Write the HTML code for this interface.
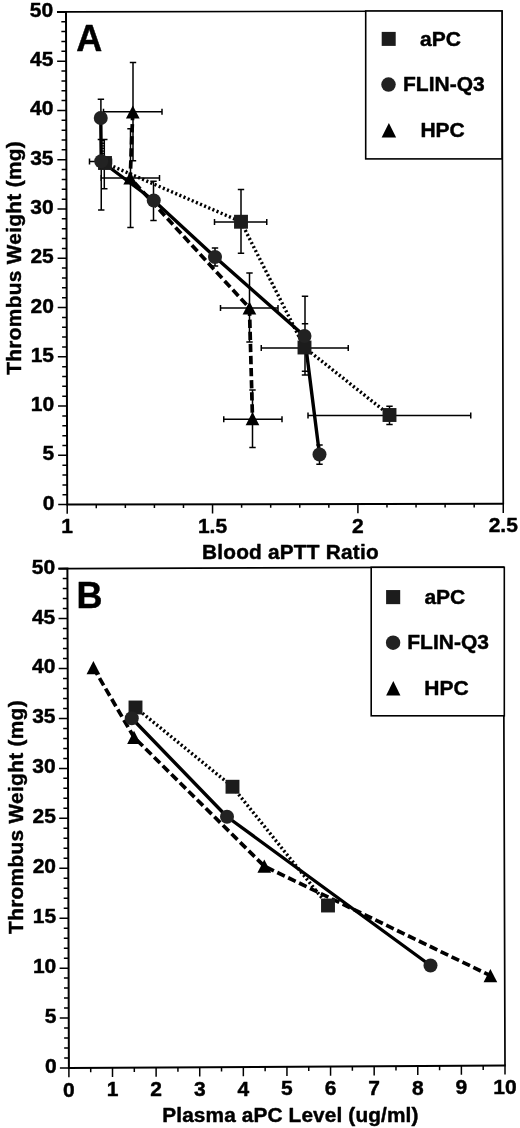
<!DOCTYPE html>
<html><head><meta charset="utf-8"><title>Figure</title>
<style>html,body{margin:0;padding:0;background:#fff}svg{display:block}text{stroke:#000;stroke-width:.45px;stroke-linejoin:round}</style></head>
<body>
<svg width="520" height="1128" viewBox="0 0 520 1128" font-family="Liberation Sans, Arial, Helvetica, sans-serif" font-weight="bold" fill="#000">
<rect width="520" height="1128" fill="#fff"/>
<path d="M66 11.9L502 11L503.25 503.75" fill="none" stroke="#000" stroke-width="1.7"/>
<path d="M57 12.08L66 11.9L67.2 504.6L504.05 503.75" fill="none" stroke="#000" stroke-width="2"/>
<text x="54.4" y="509.6" text-anchor="end" font-size="21">0</text>
<text x="54.28" y="460.33" text-anchor="end" font-size="21">5</text>
<text x="54.16" y="411.06" text-anchor="end" font-size="21">10</text>
<text x="54.04" y="361.79" text-anchor="end" font-size="21">15</text>
<text x="53.92" y="312.52" text-anchor="end" font-size="21">20</text>
<text x="53.8" y="263.25" text-anchor="end" font-size="21">25</text>
<text x="53.68" y="213.98" text-anchor="end" font-size="21">30</text>
<text x="53.56" y="164.71" text-anchor="end" font-size="21">35</text>
<text x="53.44" y="115.44" text-anchor="end" font-size="21">40</text>
<text x="53.32" y="66.17" text-anchor="end" font-size="21">45</text>
<text x="53.2" y="16.9" text-anchor="end" font-size="21">50</text>
<text x="67.2" y="533.1" text-anchor="middle" font-size="21">1</text>
<text x="212.55" y="532.82" text-anchor="middle" font-size="21">1.5</text>
<text x="357.9" y="532.53" text-anchor="middle" font-size="21">2</text>
<text x="503.25" y="532.25" text-anchor="middle" font-size="21">2.5</text>
<path d="M58.2 504.62H67.2M62.48 494.76H67.18M62.45 484.9H67.15M62.43 475.05H67.13M62.4 465.19H67.1M58.08 455.35H67.08M62.36 445.49H67.06M62.33 435.63H67.03M62.31 425.78H67.01M62.28 415.92H66.98M57.96 406.08H66.96M62.24 396.22H66.94M62.21 386.36H66.91M62.19 376.51H66.89M62.16 366.65H66.86M57.84 356.81H66.84M62.12 346.95H66.82M62.09 337.09H66.79M62.07 327.24H66.77M62.04 317.38H66.74M57.72 307.54H66.72M62 297.68H66.7M61.97 287.82H66.67M61.95 277.97H66.65M61.92 268.11H66.62M57.6 258.27H66.6M61.88 248.41H66.58M61.85 238.55H66.55M61.83 228.7H66.53M61.8 218.84H66.5M57.48 209H66.48M61.76 199.14H66.46M61.73 189.28H66.43M61.71 179.43H66.41M61.68 169.57H66.38M57.36 159.73H66.36M61.64 149.87H66.34M61.61 140.01H66.31M61.59 130.16H66.29M61.56 120.3H66.26M57.24 110.46H66.24M61.52 100.6H66.22M61.49 90.74H66.19M61.47 80.89H66.17M61.44 71.03H66.14M57.12 61.19H66.12M61.4 51.33H66.1M61.37 41.47H66.07M61.35 31.62H66.05M61.32 21.76H66.02M57 11.92H66M67.2 504.6V513.8M96.27 504.54V508.14M125.34 504.49V508.09M154.41 504.43V508.03M183.48 504.37V507.97M212.55 504.32V513.52M241.62 504.26V507.86M270.69 504.2V507.8M299.76 504.15V507.75M328.83 504.09V507.69M357.9 504.03V513.23M386.97 503.98V507.58M416.04 503.92V507.52M445.11 503.86V507.46M474.18 503.81V507.41M503.25 503.75V512.95" fill="none" stroke="#000" stroke-width="1.5"/>
<rect x="365.7" y="11" width="136.3" height="147.9" fill="#fff" stroke="#000" stroke-width="1.6"/>
<rect x="381.7" y="31.9" width="14" height="14" fill="#1c1c1c"/>
<circle cx="388.5" cy="84.6" r="7.25" fill="#222"/>
<path d="M388.9 123L396.15 137.6H381.65Z" fill="#000"/>
<text x="420" y="45.75" font-size="21">aPC</text>
<text x="403" y="90.5" font-size="21">FLIN-Q3</text>
<text x="420.4" y="136.75" font-size="21">HPC</text>
<text x="76.3" y="51" font-size="36">A</text>
<text transform="translate(20.9 257.8) rotate(-90)" text-anchor="middle" font-size="20.8" letter-spacing="0.33">Thrombus Weight (mg)</text>
<text x="290.4" y="559.2" text-anchor="middle" font-size="20.8" letter-spacing="0.22">Blood aPTT Ratio</text>
<path d="M100.9 99.3V139.4M97.7 99.3h6.4M97.7 139.4h6.4M101.25 112.5V210M98.05 112.5h6.4M98.05 210h6.4M89.5 161.5H111.5M89.5 158.5v6M111.5 158.5v6M153.5 181.25V220.5M150.3 181.25h6.4M150.3 220.5h6.4M215 248V266M211.8 248h6.4M211.8 266h6.4M305 296.25V375M301.8 296.25h6.4M301.8 375h6.4M319.5 445V464.25M316.3 445h6.4M316.3 464.25h6.4M104.3 139.4V188.7M101.1 139.4h6.4M101.1 188.7h6.4M241 189.5V253.25M237.8 189.5h6.4M237.8 253.25h6.4M214.5 222H266.75M214.5 219v6M266.75 219v6M305 323.75V371.25M301.8 323.75h6.4M301.8 371.25h6.4M261.25 348H348.25M261.25 345v6M348.25 345v6M389.5 406.25V424.5M386.3 406.25h6.4M386.3 424.5h6.4M308 415.5H470.75M308 412.5v6M470.75 412.5v6M133 62.5V160.8M129.8 62.5h6.4M129.8 160.8h6.4M103.5 111.75H162M103.5 108.75v6M162 108.75v6M130.5 128.75V227.5M127.3 128.75h6.4M127.3 227.5h6.4M101 178H159.5M101 175v6M159.5 175v6M249.5 273V342M246.3 273h6.4M246.3 342h6.4M220.5 308H278M220.5 305v6M278 305v6M252.5 390V447.5M249.3 390h6.4M249.3 447.5h6.4M223.75 419.25H282M223.75 416.25v6M282 416.25v6" stroke="#000" stroke-width="1.5" fill="none"/>
<path d="M105 163L241 221.75L304.5 347.5L389.5 415" stroke="#000" stroke-width="3.4" fill="none" stroke-dasharray="2.1 2.4"/>
<path d="M103.2 140V157" stroke="#000" stroke-width="2.6" fill="none" stroke-dasharray="1.3 1.3"/>
<path d="M132.8 112L130.2 178L249.45 308L252.5 418.6" stroke="#000" stroke-width="3.7" fill="none" stroke-dasharray="8.3 3.8"/>
<path d="M100.75 118L101.25 161.25L153.75 200.5L215 257L304.5 336L319.5 454.5" stroke="#000" stroke-width="3.4" fill="none" stroke-linejoin="round"/>
<rect x="98.05" y="156.05" width="13.9" height="13.9" fill="#1c1c1c"/>
<rect x="234.05" y="214.8" width="13.9" height="13.9" fill="#1c1c1c"/>
<rect x="297.55" y="340.55" width="13.9" height="13.9" fill="#1c1c1c"/>
<rect x="382.55" y="408.05" width="13.9" height="13.9" fill="#1c1c1c"/>
<circle cx="100.75" cy="118" r="7" fill="#222"/>
<circle cx="101.25" cy="161.25" r="7" fill="#222"/>
<circle cx="153.75" cy="200.5" r="7" fill="#222"/>
<circle cx="215" cy="257" r="7" fill="#222"/>
<circle cx="304.5" cy="336" r="7" fill="#222"/>
<circle cx="319.5" cy="454.5" r="7" fill="#222"/>
<path d="M132.8 105.4L139.65 118.6H125.95Z" fill="#000"/>
<path d="M130.2 171.4L137.05 184.6H123.35Z" fill="#000"/>
<path d="M249.45 301.4L256.3 314.6H242.6Z" fill="#000"/>
<path d="M252.5 412L259.35 425.2H245.65Z" fill="#000"/>
<path d="M67.4 568.6L503.4 567L505 1065.4" fill="none" stroke="#000" stroke-width="1.7"/>
<path d="M58.4 568.78L67.4 568.6L68.9 1068L505.8 1065.4" fill="none" stroke="#000" stroke-width="2"/>
<text x="56.6" y="1073" text-anchor="end" font-size="21">0</text>
<text x="56.45" y="1023.06" text-anchor="end" font-size="21">5</text>
<text x="56.3" y="973.12" text-anchor="end" font-size="21">10</text>
<text x="56.15" y="923.18" text-anchor="end" font-size="21">15</text>
<text x="56" y="873.24" text-anchor="end" font-size="21">20</text>
<text x="55.85" y="823.3" text-anchor="end" font-size="21">25</text>
<text x="55.7" y="773.36" text-anchor="end" font-size="21">30</text>
<text x="55.55" y="723.42" text-anchor="end" font-size="21">35</text>
<text x="55.4" y="673.48" text-anchor="end" font-size="21">40</text>
<text x="55.25" y="623.54" text-anchor="end" font-size="21">45</text>
<text x="55.1" y="573.6" text-anchor="end" font-size="21">50</text>
<text x="68.9" y="1096.6" text-anchor="middle" font-size="21">0</text>
<text x="112.51" y="1096.34" text-anchor="middle" font-size="21">1</text>
<text x="156.12" y="1096.08" text-anchor="middle" font-size="21">2</text>
<text x="199.73" y="1095.82" text-anchor="middle" font-size="21">3</text>
<text x="243.34" y="1095.56" text-anchor="middle" font-size="21">4</text>
<text x="286.95" y="1095.3" text-anchor="middle" font-size="21">5</text>
<text x="330.56" y="1095.04" text-anchor="middle" font-size="21">6</text>
<text x="374.17" y="1094.78" text-anchor="middle" font-size="21">7</text>
<text x="417.78" y="1094.52" text-anchor="middle" font-size="21">8</text>
<text x="461.39" y="1094.26" text-anchor="middle" font-size="21">9</text>
<text x="505" y="1094" text-anchor="middle" font-size="21">10</text>
<path d="M59.9 1068.02H68.9M64.17 1058.02H68.87M64.14 1048.03H68.84M64.11 1038.05H68.81M64.08 1028.06H68.78M59.75 1018.08H68.75M64.02 1008.08H68.72M63.99 998.09H68.69M63.96 988.11H68.66M63.93 978.12H68.63M59.6 968.14H68.6M63.87 958.14H68.57M63.84 948.15H68.54M63.81 938.17H68.51M63.78 928.18H68.48M59.45 918.2H68.45M63.72 908.2H68.42M63.69 898.21H68.39M63.66 888.23H68.36M63.63 878.24H68.33M59.3 868.26H68.3M63.57 858.26H68.27M63.54 848.27H68.24M63.51 838.29H68.21M63.48 828.3H68.18M59.15 818.32H68.15M63.42 808.32H68.12M63.39 798.33H68.09M63.36 788.35H68.06M63.33 778.36H68.03M59 768.38H68M63.27 758.38H67.97M63.24 748.39H67.94M63.21 738.41H67.91M63.18 728.42H67.88M58.85 718.44H67.85M63.12 708.44H67.82M63.09 698.45H67.79M63.06 688.47H67.76M63.03 678.48H67.73M58.7 668.5H67.7M62.97 658.5H67.67M62.94 648.51H67.64M62.91 638.53H67.61M62.88 628.54H67.58M58.55 618.56H67.55M62.82 608.56H67.52M62.79 598.57H67.49M62.76 588.59H67.46M62.73 578.6H67.43M58.4 568.62H67.4M68.9 1068V1077.2M90.71 1067.87V1072.37M112.51 1067.74V1076.94M134.31 1067.61V1072.11M156.12 1067.48V1076.68M177.93 1067.35V1071.85M199.73 1067.22V1076.42M221.53 1067.09V1071.59M243.34 1066.96V1076.16M265.14 1066.83V1071.33M286.95 1066.7V1075.9M308.75 1066.57V1071.07M330.56 1066.44V1075.64M352.37 1066.31V1070.81M374.17 1066.18V1075.38M395.98 1066.05V1070.55M417.78 1065.92V1075.12M439.59 1065.79V1070.29M461.39 1065.66V1074.86M483.2 1065.53V1070.03M505 1065.4V1074.6" fill="none" stroke="#000" stroke-width="1.5"/>
<rect x="371.2" y="567.3" width="133.1" height="148.5" fill="#fff" stroke="#000" stroke-width="1.6"/>
<rect x="386.1" y="590.05" width="14.1" height="14.1" fill="#1c1c1c"/>
<circle cx="393.1" cy="642.7" r="7.2" fill="#222"/>
<path d="M393.3 681.1L400.45 695.6H386.15Z" fill="#000"/>
<text x="424.4" y="604" font-size="21">aPC</text>
<text x="407.3" y="649.1" font-size="21">FLIN-Q3</text>
<text x="424.3" y="694.9" font-size="21">HPC</text>
<text x="76.5" y="608" font-size="36">B</text>
<text transform="translate(23 817) rotate(-90)" text-anchor="middle" font-size="20.8" letter-spacing="0.33">Thrombus Weight (mg)</text>
<text x="290.4" y="1122" text-anchor="middle" font-size="20.8" letter-spacing="0.135">Plasma aPC Level (ug/ml)</text>
<path d="M135.5 707.5L232.5 786.75L328 905.5" stroke="#000" stroke-width="3.4" fill="none" stroke-dasharray="2.1 2.4"/>
<path d="M93.4 667.7L134 737.3L264.3 866.2L490.4 975.6" stroke="#000" stroke-width="3.7" fill="none" stroke-dasharray="8.3 3.8"/>
<path d="M131.75 718.25L227 816.75L430.5 965.5" stroke="#000" stroke-width="3.4" fill="none" stroke-linejoin="round"/>
<rect x="128.55" y="700.55" width="13.9" height="13.9" fill="#1c1c1c"/>
<rect x="225.55" y="779.8" width="13.9" height="13.9" fill="#1c1c1c"/>
<rect x="321.05" y="898.55" width="13.9" height="13.9" fill="#1c1c1c"/>
<circle cx="131.75" cy="718.25" r="7" fill="#222"/>
<circle cx="227" cy="816.75" r="7" fill="#222"/>
<circle cx="430.5" cy="965.5" r="7" fill="#222"/>
<path d="M93.4 661.1L100.25 674.3H86.55Z" fill="#000"/>
<path d="M134 730.7L140.85 743.9H127.15Z" fill="#000"/>
<path d="M264.3 859.6L271.15 872.8H257.45Z" fill="#000"/>
<path d="M490.4 969L497.25 982.2H483.55Z" fill="#000"/>
</svg>
</body></html>
